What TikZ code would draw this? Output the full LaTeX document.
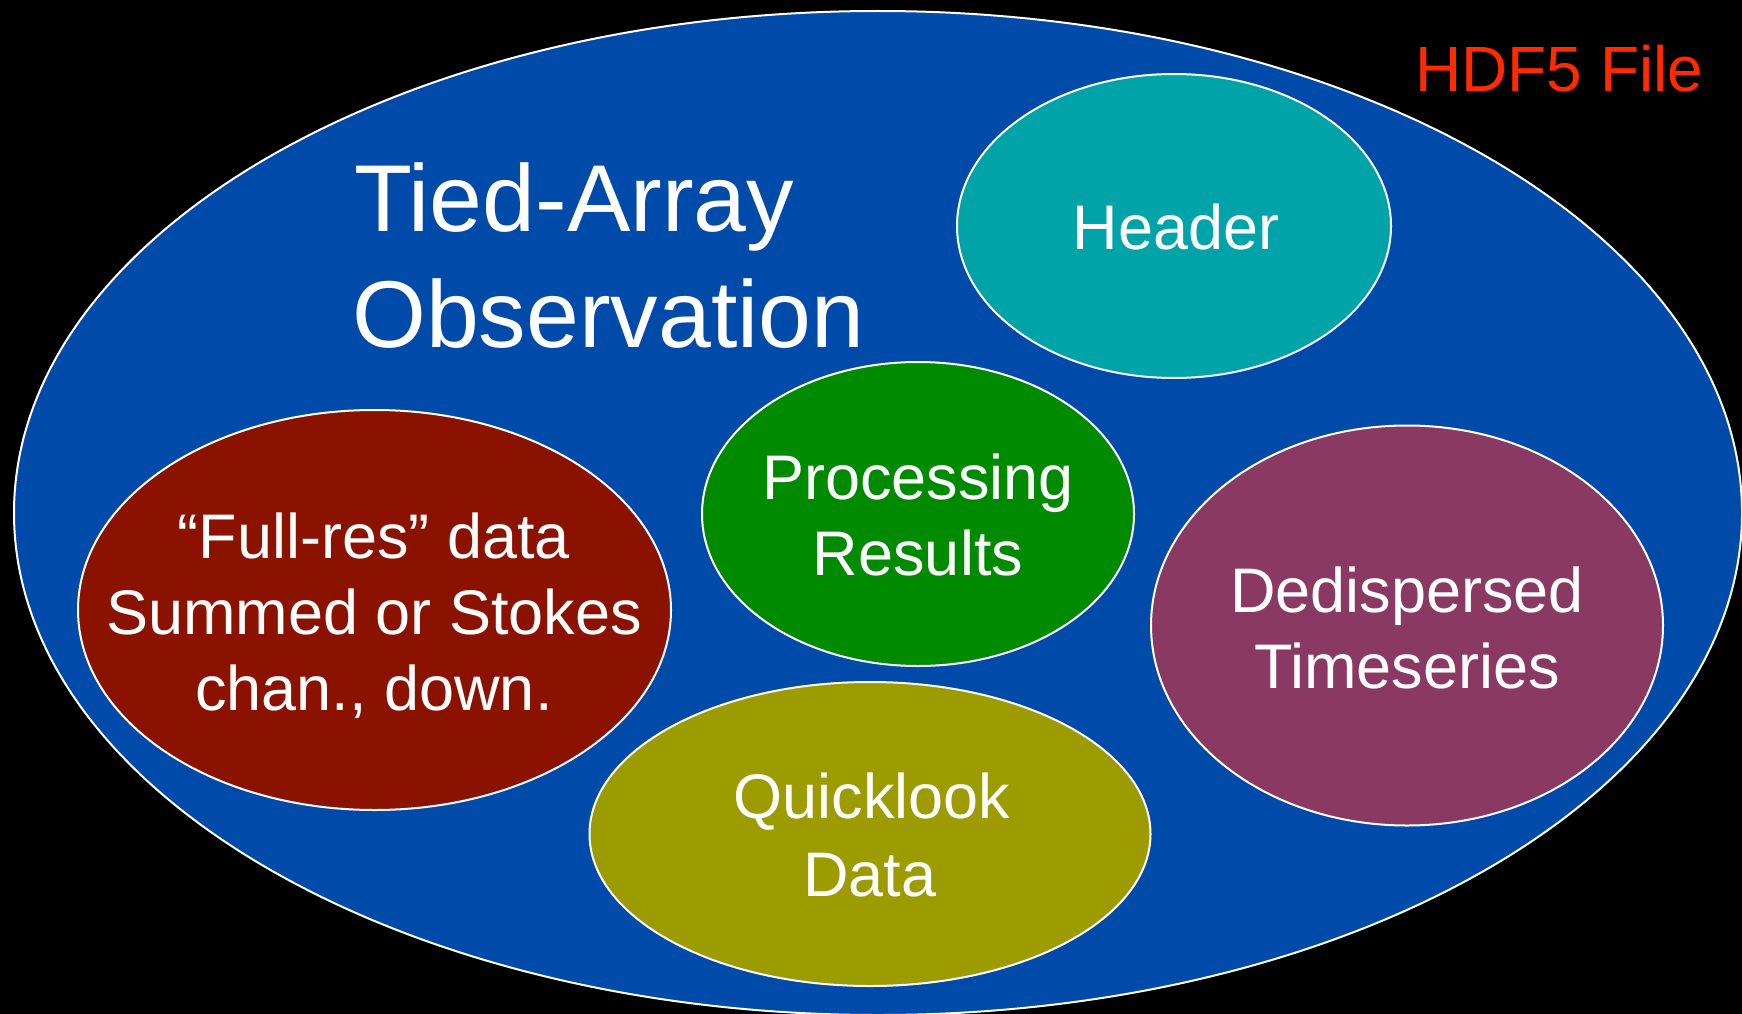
\documentclass[tikz,border=0pt]{standalone}
\usepackage{fontspec}
\setmainfont{Liberation Sans}
\definecolor{bigblue}{RGB}{0,74,170}
\definecolor{headteal}{RGB}{0,163,168}
\definecolor{procgreen}{RGB}{0,138,0}
\definecolor{fullred}{RGB}{140,18,0}
\definecolor{dedpurple}{RGB}{138,58,98}
\definecolor{qlolive}{RGB}{156,156,0}
\definecolor{hdfred}{RGB}{255,42,0}
\begin{document}
\begin{tikzpicture}[x=1pt,y=-1pt,
  blob/.style={draw=white,line width=2pt},
  lbl/.style={text=white,inner sep=0pt,anchor=base},
  midtxt/.style={font=\fontsize{63}{77}\selectfont},
  titletxt/.style={font=\fontsize{95}{116}\selectfont}]
\path[fill=black] (0,0) rectangle (1742,1014);
\useasboundingbox (0,0) rectangle (1742,1014);
% outer file ellipse
\path[blob,fill=bigblue] (878,513) ellipse [x radius=864, y radius=502];
% inner ellipses
\path[blob,fill=headteal] (1174,226) ellipse [x radius=217, y radius=152];
\path[blob,fill=procgreen] (918,514) ellipse [x radius=216, y radius=152];
\path[blob,fill=fullred] (374.5,610) ellipse [x radius=296.5, y radius=200];
\path[blob,fill=dedpurple] (1407,625.5) ellipse [x radius=256, y radius=200];
\path[blob,fill=qlolive] (870,834) ellipse [x radius=280.5, y radius=152];
% texts
\node[lbl,titletxt,anchor=base west] (tied) at (354,231) {Tied-Array};
\node[lbl,titletxt,anchor=base west] (obs) at (352,347) {Observation};
\node[lbl,anchor=base west,text=hdfred,font=\fontsize{64}{76}\selectfont] (hdf) at (1415,92) {HDF5 File};
\node[lbl,midtxt] (head) at (1176,249) {Header};
\node[lbl,midtxt] (proc1) at (918,499) {Processing};
\node[lbl,midtxt] (proc2) at (918,575) {Results};
\node[lbl,midtxt] (ql1) at (872,818) {Quicklook};
\node[lbl,midtxt] (ql2) at (870,896) {Data};
\node[lbl,midtxt] (fr1) at (374,558) {“Full-res” data};
\node[lbl,midtxt] (fr2) at (374,634) {Summed or Stokes};
\node[lbl,midtxt] (fr3) at (374,710) {chan., down.};
\node[lbl,midtxt] (ded1) at (1407,612) {Dedispersed};
\node[lbl,midtxt] (ded2) at (1407,688) {Timeseries};
\end{tikzpicture}
\end{document}
